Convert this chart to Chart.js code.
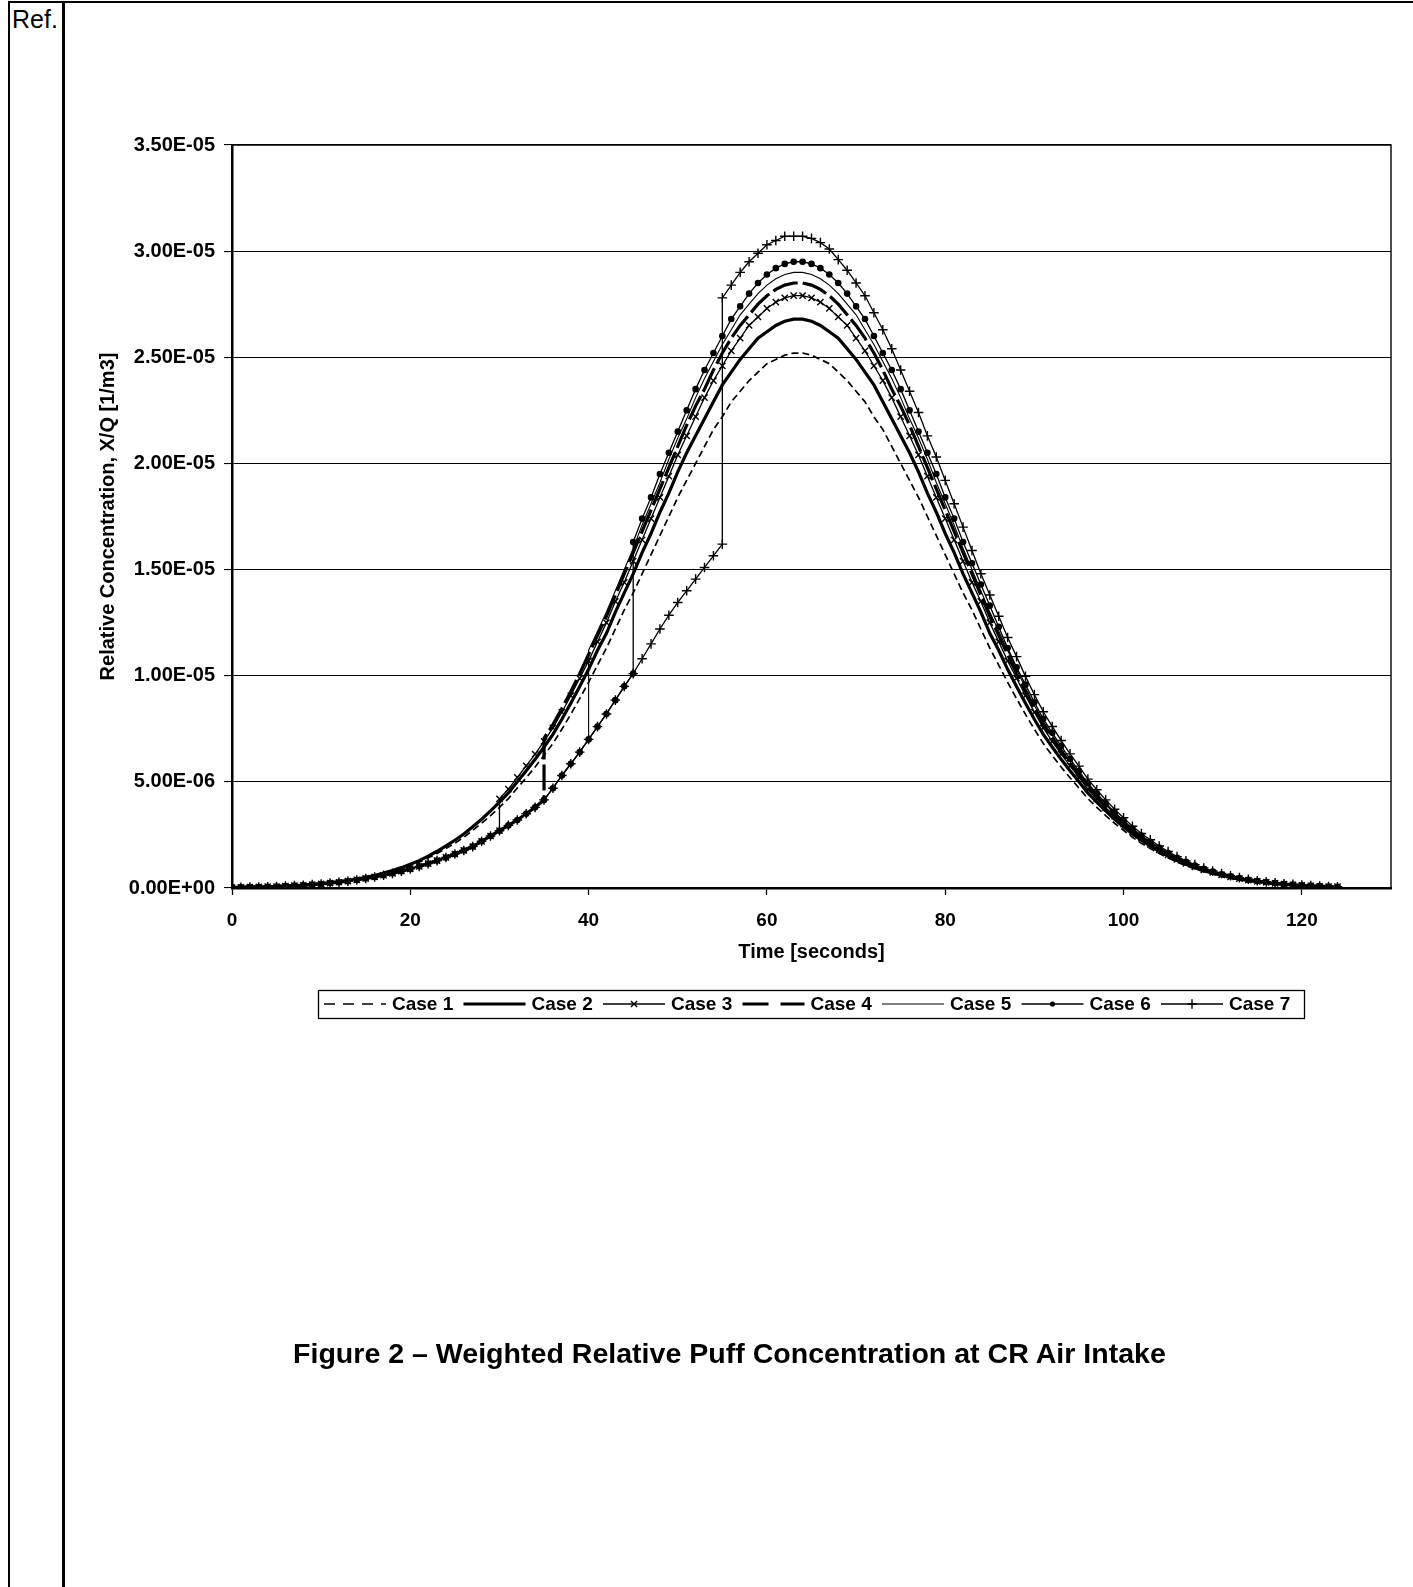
<!DOCTYPE html>
<html>
<head>
<meta charset="utf-8">
<title>Figure 2 - Weighted Relative Puff Concentration</title>
<script src="https://cdn.jsdelivr.net/npm/chart.js@4.4.1/dist/chart.umd.min.js"></script>
<style>
    html, body { margin: 0; padding: 0; background: #fff; }
    body { width: 1413px; height: 1587px; position: relative; overflow: hidden;
           font-family: 'Liberation Sans', Arial, sans-serif; color: #000; }
    #chart { position: absolute; left: 0; top: 0; }
    .rule { position: absolute; background: #000; }
    #ref { position: absolute; left: 12px; top: 7px; font-size: 25px; line-height: 25px; }
    #caption { position: absolute; left: 293px; top: 1340px; font-size: 28px; line-height: 28px;
               font-weight: bold; white-space: nowrap; transform: scaleX(1.02); transform-origin: left top; }
</style>
</head>
<body>
<div class="rule" style="left:8px; top:1px; width:1405px; height:2px;"></div>
<div class="rule" style="left:8px; top:1px; width:2px; height:1586px;"></div>
<div class="rule" style="left:62px; top:1px; width:3px; height:1586px;"></div>
<div id="ref">Ref.</div>
<canvas id="chart" width="1413" height="1587"></canvas>
<div id="caption">Figure 2 &ndash; Weighted Relative Puff Concentration at CR Air Intake</div>

<script>
// time axis, seconds
const timeSec = [
    0, 1, 2, 3, 4, 5, 6, 7, 8, 9, 10, 11, 12, 13, 14, 15, 16, 17, 18, 19,
    20, 21, 22, 23, 24, 25, 26, 27, 28, 29, 30, 31, 32, 33, 34, 35, 36, 37, 38, 39,
    40, 41, 42, 43, 44, 45, 46, 47, 48, 49, 50, 51, 52, 53, 54, 55, 56, 57, 58, 59,
    60, 61, 62, 63, 64, 65, 66, 67, 68, 69, 70, 71, 72, 73, 74, 75, 76, 77, 78, 79,
    80, 81, 82, 83, 84, 85, 86, 87, 88, 89, 90, 91, 92, 93, 94, 95, 96, 97, 98, 99,
    100, 101, 102, 103, 104, 105, 106, 107, 108, 109, 110, 111, 112, 113, 114, 115, 116, 117, 118, 119,
    120, 121, 122, 123, 124
];

// relative concentration X/Q, in units of 1E-06 1/m3
const case1 = [
    0.03, 0.03, 0.04, 0.05, 0.06, 0.08, 0.09, 0.11, 0.14, 0.16,
    0.2, 0.24, 0.28, 0.34, 0.4, 0.47, 0.56, 0.66, 0.77, 0.9,
    1.05, 1.22, 1.41, 1.62, 1.86, 2.11, 2.39, 2.72, 3.05, 3.41,
    3.8, 4.21, 4.71, 5.19, 5.7, 6.24, 6.81, 7.48, 8.18, 8.92,
    9.69, 10.5, 11.3, 12.2, 13.1, 13.9, 14.8, 15.7, 16.6, 17.5,
    18.4, 19.2, 20.0, 20.8, 21.6, 22.2, 22.9, 23.4, 23.9, 24.3,
    24.7, 24.9, 25.1, 25.2, 25.2, 25.1, 24.9, 24.7, 24.3, 23.9,
    23.4, 22.9, 22.2, 21.6, 20.8, 20.0, 19.2, 18.4, 17.5, 16.6,
    15.7, 14.8, 13.9, 13.1, 12.2, 11.3, 10.5, 9.69, 8.92, 8.18,
    7.48, 6.81, 6.24, 5.7, 5.19, 4.71, 4.21, 3.8, 3.41, 3.05,
    2.72, 2.39, 2.11, 1.86, 1.62, 1.41, 1.22, 1.05, 0.9, 0.77,
    0.66, 0.56, 0.47, 0.4, 0.34, 0.28, 0.24, 0.2, 0.16, 0.14,
    0.11, 0.09, 0.08, 0.06, 0.05
];
const case2 = [
    0.03, 0.03, 0.05, 0.05, 0.06, 0.08, 0.1, 0.12, 0.14, 0.17,
    0.21, 0.25, 0.3, 0.36, 0.42, 0.5, 0.59, 0.7, 0.82, 0.96,
    1.12, 1.29, 1.5, 1.73, 1.98, 2.25, 2.54, 2.89, 3.24, 3.63,
    4.04, 4.48, 5.01, 5.52, 6.06, 6.64, 7.24, 7.95, 8.7, 9.49,
    10.3, 11.2, 12.0, 13.0, 13.9, 14.8, 15.8, 16.7, 17.7, 18.6,
    19.6, 20.5, 21.3, 22.1, 22.9, 23.7, 24.3, 24.9, 25.4, 25.9,
    26.2, 26.5, 26.7, 26.8, 26.8, 26.7, 26.5, 26.2, 25.9, 25.4,
    24.9, 24.3, 23.7, 22.9, 22.1, 21.3, 20.5, 19.6, 18.6, 17.7,
    16.7, 15.8, 14.8, 13.9, 13.0, 12.0, 11.2, 10.3, 9.49, 8.7,
    7.95, 7.24, 6.64, 6.06, 5.52, 5.01, 4.48, 4.04, 3.63, 3.24,
    2.89, 2.54, 2.25, 1.98, 1.73, 1.5, 1.29, 1.12, 0.96, 0.82,
    0.7, 0.59, 0.5, 0.42, 0.36, 0.3, 0.25, 0.21, 0.17, 0.14,
    0.12, 0.1, 0.08, 0.06, 0.05
];
const case3 = [
    0.02, 0.03, 0.04, 0.05, 0.06, 0.07, 0.09, 0.11, 0.13, 0.16,
    0.19, 0.23, 0.27, 0.32, 0.38, 0.45, 0.52, 0.6, 0.69, 0.79,
    0.9, 1.02, 1.15, 1.29, 1.44, 1.6, 1.77, 1.95, 2.2, 2.45,
    4.2, 4.66, 5.21, 5.75, 6.31, 6.91, 7.54, 8.28, 9.06, 9.88,
    10.7, 11.6, 12.5, 13.5, 14.4, 15.4, 16.4, 17.4, 18.4, 19.4,
    20.4, 21.3, 22.2, 23.1, 23.9, 24.6, 25.3, 25.9, 26.5, 26.9,
    27.3, 27.6, 27.8, 27.9, 27.9, 27.8, 27.6, 27.3, 26.9, 26.5,
    25.9, 25.3, 24.6, 23.9, 23.1, 22.2, 21.3, 20.4, 19.4, 18.4,
    17.4, 16.4, 15.4, 14.4, 13.5, 12.5, 11.6, 10.7, 9.88, 9.06,
    8.28, 7.54, 6.91, 6.31, 5.75, 5.21, 4.66, 4.2, 3.77, 3.37,
    3.01, 2.64, 2.34, 2.06, 1.8, 1.56, 1.35, 1.16, 1.0, 0.85,
    0.73, 0.62, 0.52, 0.44, 0.37, 0.31, 0.26, 0.22, 0.18, 0.15,
    0.12, 0.1, 0.08, 0.07, 0.06
];
const case4 = [
    0.02, 0.03, 0.04, 0.05, 0.06, 0.07, 0.09, 0.11, 0.13, 0.16,
    0.19, 0.23, 0.27, 0.32, 0.38, 0.45, 0.52, 0.6, 0.69, 0.79,
    0.9, 1.02, 1.15, 1.29, 1.44, 1.6, 1.77, 1.95, 2.2, 2.45,
    2.7, 2.95, 3.2, 3.5, 3.8, 7.06, 7.7, 8.46, 9.25, 10.1,
    11.0, 11.9, 12.8, 13.8, 14.8, 15.8, 16.8, 17.8, 18.8, 19.8,
    20.8, 21.8, 22.7, 23.5, 24.4, 25.2, 25.9, 26.5, 27.0, 27.5,
    27.9, 28.2, 28.4, 28.5, 28.5, 28.4, 28.2, 27.9, 27.5, 27.0,
    26.5, 25.9, 25.2, 24.4, 23.5, 22.7, 21.8, 20.8, 19.8, 18.8,
    17.8, 16.8, 15.8, 14.8, 13.8, 12.8, 11.9, 11.0, 10.1, 9.25,
    8.46, 7.7, 7.06, 6.45, 5.87, 5.33, 4.77, 4.3, 3.86, 3.45,
    3.07, 2.7, 2.39, 2.11, 1.84, 1.59, 1.38, 1.19, 1.02, 0.87,
    0.74, 0.63, 0.54, 0.45, 0.38, 0.32, 0.27, 0.22, 0.19, 0.15,
    0.13, 0.1, 0.09, 0.07, 0.06
];
const case5 = [
    0.02, 0.03, 0.04, 0.05, 0.06, 0.07, 0.09, 0.11, 0.13, 0.16,
    0.19, 0.23, 0.27, 0.32, 0.38, 0.45, 0.52, 0.6, 0.69, 0.79,
    0.9, 1.02, 1.15, 1.29, 1.44, 1.6, 1.77, 1.95, 2.2, 2.45,
    2.7, 2.95, 3.2, 3.5, 3.8, 4.15, 4.7, 5.3, 5.85, 6.4,
    11.2, 12.1, 13.0, 14.0, 15.0, 16.0, 17.1, 18.1, 19.1, 20.2,
    21.2, 22.1, 23.1, 24.0, 24.8, 25.6, 26.3, 27.0, 27.5, 28.0,
    28.4, 28.7, 28.9, 29.0, 29.0, 28.9, 28.7, 28.4, 28.0, 27.5,
    27.0, 26.3, 25.6, 24.8, 24.0, 23.1, 22.1, 21.2, 20.2, 19.1,
    18.1, 17.1, 16.0, 15.0, 14.0, 13.0, 12.1, 11.2, 10.3, 9.42,
    8.6, 7.84, 7.19, 6.56, 5.97, 5.42, 4.85, 4.37, 3.92, 3.51,
    3.13, 2.75, 2.43, 2.14, 1.87, 1.62, 1.4, 1.21, 1.04, 0.89,
    0.76, 0.64, 0.55, 0.46, 0.39, 0.32, 0.27, 0.23, 0.19, 0.16,
    0.13, 0.1, 0.09, 0.07, 0.06
];
const case6 = [
    0.02, 0.03, 0.04, 0.05, 0.06, 0.07, 0.09, 0.11, 0.13, 0.16,
    0.19, 0.23, 0.27, 0.32, 0.38, 0.45, 0.52, 0.6, 0.69, 0.79,
    0.9, 1.02, 1.15, 1.29, 1.44, 1.6, 1.77, 1.95, 2.2, 2.45,
    2.7, 2.95, 3.2, 3.5, 3.8, 4.15, 4.7, 5.3, 5.85, 6.4,
    7.0, 7.6, 8.2, 8.85, 9.5, 16.3, 17.4, 18.4, 19.5, 20.5,
    21.5, 22.5, 23.5, 24.4, 25.2, 26.0, 26.8, 27.4, 28.0, 28.5,
    28.9, 29.2, 29.4, 29.5, 29.5, 29.4, 29.2, 28.9, 28.5, 28.0,
    27.4, 26.8, 26.0, 25.2, 24.4, 23.5, 22.5, 21.5, 20.5, 19.5,
    18.4, 17.4, 16.3, 15.3, 14.3, 13.3, 12.3, 11.3, 10.4, 9.58,
    8.75, 7.97, 7.31, 6.68, 6.08, 5.51, 4.93, 4.45, 3.99, 3.57,
    3.18, 2.8, 2.47, 2.18, 1.9, 1.65, 1.42, 1.23, 1.06, 0.9,
    0.77, 0.65, 0.55, 0.47, 0.39, 0.33, 0.28, 0.23, 0.19, 0.16,
    0.13, 0.11, 0.09, 0.07, 0.06
];
const case7 = [
    0.02, 0.03, 0.04, 0.05, 0.06, 0.07, 0.09, 0.11, 0.13, 0.16,
    0.19, 0.23, 0.27, 0.32, 0.38, 0.45, 0.52, 0.6, 0.69, 0.79,
    0.9, 1.02, 1.15, 1.29, 1.44, 1.6, 1.77, 1.95, 2.2, 2.45,
    2.7, 2.95, 3.2, 3.5, 3.8, 4.15, 4.7, 5.3, 5.85, 6.4,
    7.0, 7.6, 8.2, 8.85, 9.5, 10.1, 10.8, 11.5, 12.2, 12.85,
    13.45, 14.0, 14.55, 15.1, 15.65, 27.8, 28.4, 29.0, 29.5, 29.9,
    30.3, 30.5, 30.7, 30.7, 30.7, 30.6, 30.4, 30.1, 29.6, 29.1,
    28.5, 27.9, 27.1, 26.3, 25.4, 24.4, 23.4, 22.4, 21.3, 20.3,
    19.2, 18.1, 17.0, 15.9, 14.8, 13.8, 12.8, 11.8, 10.9, 9.97,
    9.11, 8.3, 7.61, 6.95, 6.32, 5.74, 5.13, 4.63, 4.15, 3.71,
    3.31, 2.91, 2.57, 2.27, 1.98, 1.72, 1.48, 1.28, 1.1, 0.94,
    0.8, 0.68, 0.58, 0.49, 0.41, 0.34, 0.29, 0.24, 0.2, 0.17,
    0.14, 0.11, 0.09, 0.07, 0.06
];

// step changes: time of the jump and the value just before it
const jumpSec = [null, null, 30, 35, 40, 45, 55];
const jumpFrom = [null, null, 2.7, 4.15, 7.0, 10.1, 16.2];

const caseNames = ['Case 1', 'Case 2', 'Case 3', 'Case 4', 'Case 5', 'Case 6', 'Case 7'];
const caseValues = [case1, case2, case3, case4, case5, case6, case7];

const yTicks = [0, 5, 10, 15, 20, 25, 30, 35];
const xTicks = [0, 20, 40, 60, 80, 100, 120];

// line / marker look of each case
const styles = [
    { width: 1.7, dash: [7, 4], point: false, legendDash: [11, 8] },
    { width: 3.2, dash: [], point: false, legendDash: [] },
    { width: 1.3, dash: [], point: 'crossRot', radius: 4.4, legendDash: [] },
    { width: 3.2, dash: [26, 5], point: false, legendDash: [26, 12] },
    { width: 1.1, dash: [], point: false, legendDash: [] },
    { width: 1.3, dash: [], point: 'circle', radius: 2.6, legendDash: [] },
    { width: 1.3, dash: [], point: 'cross', radius: 4.8, legendDash: [] }
];

function buildPoints(i) {
    const vals = caseValues[i];
    const pts = [];
    timeSec.forEach((t, k) => {
        if (jumpSec[i] !== null && t === jumpSec[i]) {
            pts.push({ x: t, y: jumpFrom[i] });
        }
        pts.push({ x: t, y: vals[k] });
    });
    return pts;
}

function sciLabel(v) {
    const n = v * 1e-6;
    if (n === 0) return '0.00E+00';
    const parts = n.toExponential(2).split('e');
    const ex = parseInt(parts[1], 10);
    return parts[0] + 'E' + (ex < 0 ? '-' : '+') + String(Math.abs(ex)).padStart(2, '0');
}

const datasets = caseNames.map((name, i) => {
    const s = styles[i];
    return {
        label: name,
        data: buildPoints(i),
        borderColor: '#000',
        backgroundColor: '#000',
        borderWidth: s.width,
        borderDash: s.dash,
        pointStyle: s.point || 'circle',
        pointRadius: s.point ? s.radius : 0,
        pointBorderWidth: 1.4,
        pointBorderColor: '#000',
        pointBackgroundColor: '#000',
        tension: 0,
        fill: false
    };
});

function drawMarker(ctx, style, r, x, y) {
    ctx.beginPath();
    if (style === 'circle') {
        ctx.arc(x, y, r, 0, Math.PI * 2);
        ctx.fill();
        return;
    }
    if (style === 'cross') {
        ctx.moveTo(x - r, y); ctx.lineTo(x + r, y);
        ctx.moveTo(x, y - r); ctx.lineTo(x, y + r);
    } else if (style === 'crossRot') {
        const d = r * 0.707;
        ctx.moveTo(x - d, y - d); ctx.lineTo(x + d, y + d);
        ctx.moveTo(x - d, y + d); ctx.lineTo(x + d, y - d);
    }
    ctx.stroke();
}

// plot frame, legend box
const framePlugin = {
    id: 'frame',
    beforeDatasetsDraw(chart) {
        const { ctx, chartArea: a } = chart;
        ctx.save();
        ctx.strokeStyle = '#000';
        ctx.lineWidth = 1.4;
        ctx.beginPath();
        ctx.moveTo(a.left, a.top); ctx.lineTo(a.right, a.top); ctx.lineTo(a.right, a.bottom);
        ctx.stroke();
        ctx.restore();
    },
    afterDraw(chart) {
        const ctx = chart.ctx;
        ctx.save();
        ctx.strokeStyle = '#000';
        ctx.fillStyle = '#000';
        ctx.lineWidth = 1.3;
        ctx.strokeRect(318.5, 990.5, 986, 28);

        const cy = 1004;
        ctx.font = 'bold 19px "Liberation Sans", Arial, sans-serif';
        ctx.textBaseline = 'middle';
        ctx.textAlign = 'left';
        caseNames.forEach((name, i) => {
            const s = styles[i];
            const x0 = 324 + i * 139.5;
            ctx.lineWidth = s.width;
            ctx.setLineDash(s.legendDash);
            ctx.beginPath();
            ctx.moveTo(x0, cy);
            ctx.lineTo(x0 + 62, cy);
            ctx.stroke();
            ctx.setLineDash([]);
            if (s.point) {
                ctx.lineWidth = 1.4;
                drawMarker(ctx, s.point, s.radius, x0 + 31, cy);
            }
            ctx.fillText(name, x0 + 68, cy + 1);
        });
        ctx.restore();
    }
};

new Chart(document.getElementById('chart'), {
    type: 'line',
    data: { datasets: datasets },
    options: {
        responsive: false,
        devicePixelRatio: 1,
        animation: false,
        events: [],
        layout: { padding: { left: 88, right: 22, top: 145, bottom: 619 } },
        plugins: {
            legend: { display: false },
            tooltip: { enabled: false }
        },
        scales: {
            x: {
                type: 'linear',
                min: 0,
                max: 130,
                afterFit: function(scale) { scale.height = 80; },
                afterBuildTicks: function(scale) {
                    scale.ticks = xTicks.map(v => ({ value: v }));
                },
                ticks: {
                    color: '#000',
                    padding: 14,
                    maxRotation: 0,
                    font: { size: 19, weight: 'bold' }
                },
                grid: {
                    drawOnChartArea: false,
                    drawTicks: true,
                    tickLength: 7,
                    tickWidth: 1.3,
                    tickColor: '#000'
                },
                border: { color: '#000', width: 2.5 },
                title: {
                    display: true,
                    text: 'Time [seconds]',
                    color: '#000',
                    font: { size: 20, weight: 'bold' },
                    padding: { top: 0, bottom: 4 }
                }
            },
            y: {
                min: 0,
                max: 35,
                afterFit: function(scale) { scale.width = 144; },
                afterBuildTicks: function(scale) {
                    scale.ticks = yTicks.map(v => ({ value: v }));
                },
                ticks: {
                    color: '#000',
                    padding: 9,
                    font: { size: 20, weight: 'bold' },
                    callback: function(value) { return sciLabel(value); }
                },
                grid: {
                    color: '#000',
                    lineWidth: 1.1,
                    drawTicks: true,
                    tickLength: 8,
                    tickColor: '#000'
                },
                border: { color: '#000', width: 2.5 },
                title: {
                    display: true,
                    text: 'Relative Concentration, X/Q [1/m3]',
                    color: '#000',
                    font: { size: 20, weight: 'bold' },
                    padding: { top: 8, bottom: 0 }
                }
            }
        }
    },
    plugins: [framePlugin]
});
</script>
</body>
</html>
